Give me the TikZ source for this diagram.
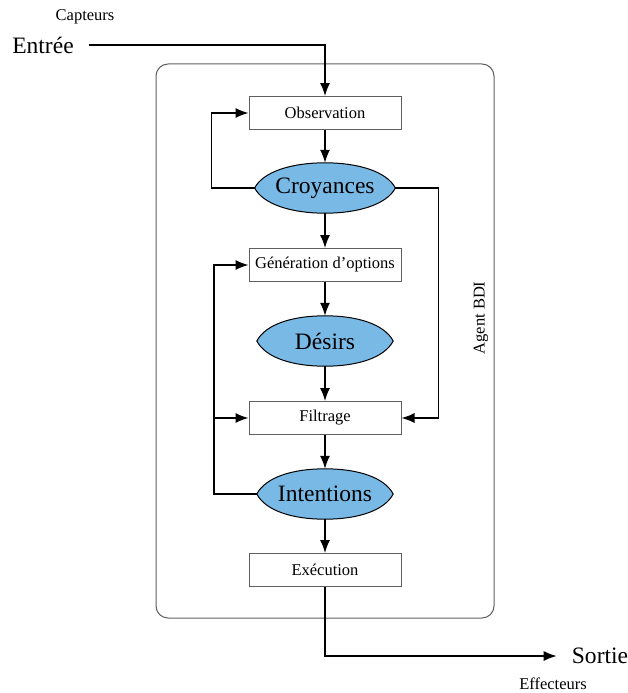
\documentclass[tikz,border=0pt]{standalone}
\usepackage{fontspec}
\setmainfont{Liberation Serif}
\usetikzlibrary{arrows.meta}
\usetikzlibrary{shapes.geometric}
\usetikzlibrary{backgrounds}
\definecolor{beliefblue}{RGB}{120,185,230}
\definecolor{framegray}{RGB}{95,95,95}
\newcommand{\bigtext}[1]{\scalebox{1.4}{\fontsize{16.8}{19}\selectfont #1}}

\begin{document}
\begin{tikzpicture}
    [
    x=1pt, y=-1pt,
    arrow/.style={
        line width=1.4pt,
        -{Latex[length=13pt,width=10pt]}
    },
    box/.style={
        draw=framegray,
        rectangle,
        line width=1pt,
        fill=white,
        minimum width=152pt,
        minimum height=33pt,
        inner sep=0pt,
        font=\fontsize{16.5}{19}\selectfont
    },
    belief/.style={
        ellipse,
        minimum width=136pt,
        minimum height=50pt,
        inner sep=0pt
    },
    lens/.style={
        draw,
        line width=1pt,
        fill=beliefblue
    },
    big/.style={inner sep=0pt},
    small/.style={inner sep=0pt, font=\fontsize{16.5}{19}\selectfont},
    ]

    \useasboundingbox (0,0) rectangle (628,693);

    \draw[framegray, line width=1pt, rounded corners=12pt] (156,64) rectangle (494,618);
    \draw (481,318) node[small, rotate=90] (agent) {Agent BDI};

    \draw (85,17) node[small] (capt) {Capteurs};
    \draw (43,45) node[big, inner xsep=15pt] (in) {\bigtext{Entrée}};
    \draw (600,656) node[big, inner xsep=15pt] (out) {\bigtext{Sortie}};
    \draw (553,684) node[small] (eff) {Effecteurs};

    \draw (325,113) node[box] (obs) {Observation};
    \draw (325,188) node[belief] (croy) {\bigtext{Croyances}};
    \draw (325,265) node[box] (gen) {Génération d’options};
    \draw (325,341) node[belief] (des) {\bigtext{Désirs}};
    \draw (325,418) node[box] (filt) {Filtrage};
    \draw (325,494) node[belief] (int) {\bigtext{Intentions}};
    \draw (325,570) node[box] (exe) {Exécution};

    % pointed ellipses behind the labels
    \begin{scope}[on background layer]
        \foreach \n in {croy,des,int}
            \draw[lens] (\n.west) .. controls +(9,-17) and +(-32,0) .. (\n.north)
                .. controls +(32,0) and +(-9,-17) .. (\n.east)
                .. controls +(-9,17) and +(32,0) .. (\n.south)
                .. controls +(-32,0) and +(9,17) .. (\n.west) -- cycle;
    \end{scope}

    \draw [arrow] (in) -| (obs);
    \draw [arrow] (obs) -- (croy);
    \draw [arrow] (croy) -- (gen);
    \draw [arrow] (gen) -- (des);
    \draw [arrow] (des) -- (filt);
    \draw [arrow] (filt) -- (int);
    \draw [arrow] (int) -- (exe);
    \draw [arrow] (exe) |- (out);

    \draw [arrow] (croy.west) -- ++(-43,0) |- (obs.west);
    \draw [arrow] (croy.east) -- ++(43,0) |- (filt.east);
    \draw [arrow] (int.west) -- ++(-43,0) |- (gen.west);
    \draw [arrow] (int.west) -- ++(-43,0) |- (filt.west);

\end{tikzpicture}
\end{document}
